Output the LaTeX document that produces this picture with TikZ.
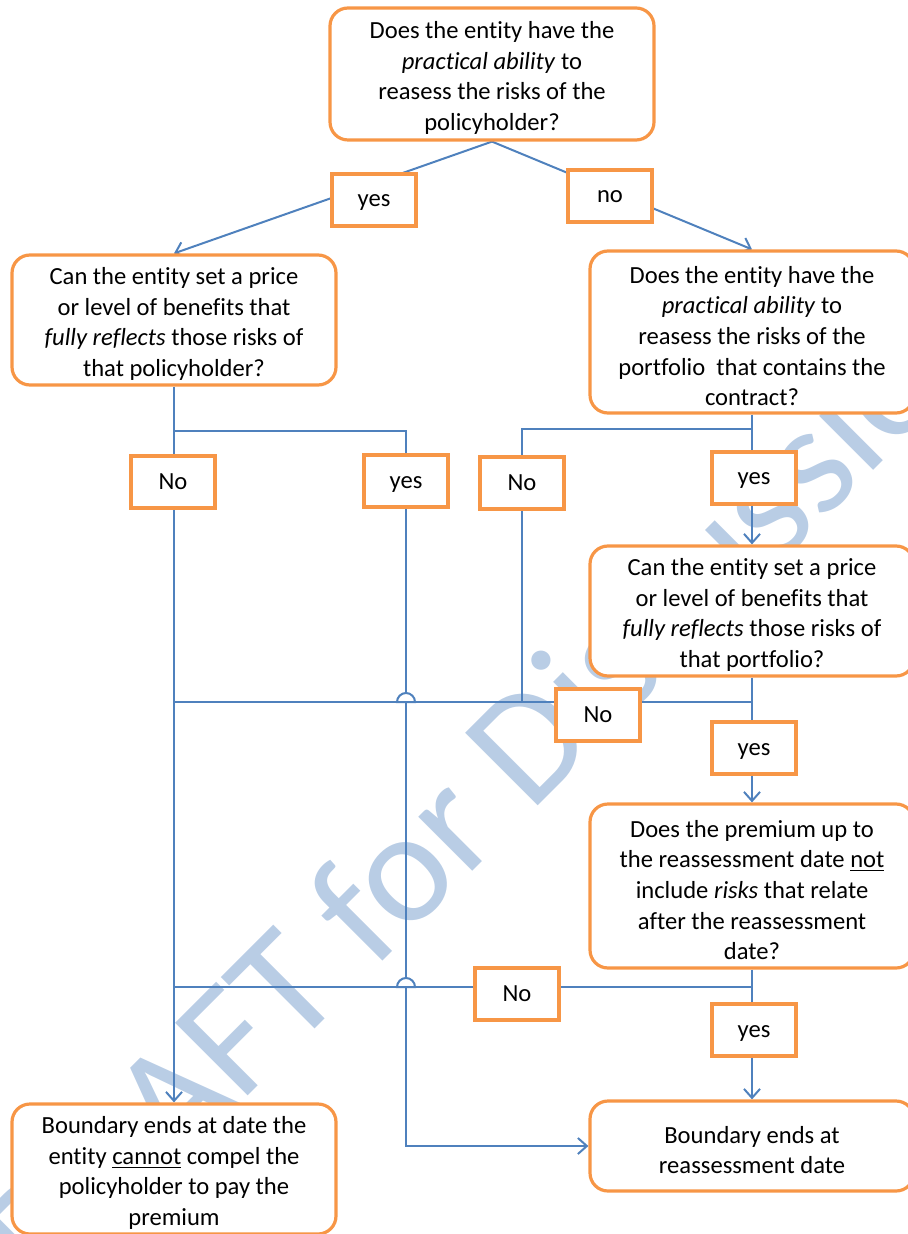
\documentclass[tikz,border=0pt]{standalone}
\usepackage{fontspec}
\setmainfont{Carlito}[Ligatures=CommonOff]
\usepackage{xcolor}
\usetikzlibrary{arrows.meta,backgrounds}
\definecolor{boxorange}{HTML}{F79646}
\definecolor{lineblue}{HTML}{4F81BD}
\definecolor{wmblue}{HTML}{B9CDE5}
\newcommand{\topgap}{\rule{0pt}{12.5pt}}

\begin{document}
\begin{tikzpicture}[x=0.5pt,y=-0.5pt,
	question/.style={draw=boxorange,line width=1.6pt,rounded corners=9pt,fill=white,align=center,inner sep=0pt,minimum width=162pt,font=\fontsize{12.3}{15.3}\selectfont},
	answer/.style={draw=boxorange,line width=2pt,fill=white,minimum width=42pt,minimum height=26pt,inner sep=0pt,text height=9pt,text depth=2pt,font=\fontsize{12.3}{15.3}\selectfont},
	wire/.style={draw=lineblue,line width=1pt},
	flow/.style={wire,-{Straight Barb[length=4.5pt,width=8pt]}}]

	\useasboundingbox (0,0) rectangle (907,1234);

	\begin{scope}[on background layer]
		\node[font=\fontsize{80}{96}\selectfont,text=wmblue,rotate=45,anchor=base west,inner sep=0pt] (wm) at (44,1300) {DRAFT for Discussion};
	\end{scope}

	\node[question,minimum height=66pt] (q1) at (492,74) {\topgap Does the entity have the\\\textit{practical ability} to\\reasess the risks of the\\policyholder?};
	\node[question,minimum height=65pt] (q2) at (174,320) {\topgap Can the entity set a price\\or level of benefits that\\\textit{fully reflects} those risks of\\that policyholder?};
	\node[question,minimum height=81pt] (q3) at (752,332) {\topgap Does the entity have the\\\textit{practical ability} to\\reasess the risks of the\\portfolio\ \ that contains the\\contract?};
	\node[question,minimum height=65pt] (q4) at (752,611) {\topgap Can the entity set a price\\or level of benefits that\\\textit{fully reflects} those risks of\\that portfolio?};
	\node[question,minimum height=82pt] (q5) at (752,886) {\topgap Does the premium up to\\the reassessment date \underline{not}\\include \textit{risks} that relate\\after the reassessment\\date?};
	\node[question,minimum height=45pt] (q6) at (752,1146) {\topgap Boundary ends at\\reassessment date};
	\node[question,minimum height=65pt] (q7) at (174,1169) {\topgap Boundary ends at date the\\entity \underline{cannot} compel the\\policyholder to pay the\\premium};

	\node[answer] (yesT) at (374,200) {yes};
	\node[answer] (noT) at (610,196) {no};
	\node[answer] (noA) at (173,482) {No};
	\node[answer] (yesA) at (406,481) {yes};
	\node[answer] (noB) at (522,483) {No};
	\node[answer] (yesB) at (754,478) {yes};
	\node[answer] (noC) at (598,715) {No};
	\node[answer] (yesC) at (754,748) {yes};
	\node[answer] (noD) at (517,994) {No};
	\node[answer] (yesD) at (754,1030) {yes};

	\coordinate (j1) at (174,431);
	\coordinate (j2) at (752,429);
	\coordinate (j3) at (752,702);
	\coordinate (k3) at (174,702);
	\coordinate (j4) at (752,987);
	\coordinate (k4) at (174,987);

	\begin{scope}[on background layer]
		\draw[flow] (q1.south) -- (q2.north);
		\draw[flow] (q1.south) -- (q3.north);
		\draw[flow] (q2.south) -- (q7.north);
		\draw[wire] (j1) -| (yesA.north);
		\draw[flow] (yesA.south) |- (q6.west);
		\draw[flow] (q3.south) -- (q4.north);
		\draw[wire] (j2) -| (noB.north);
		\draw[wire] (noB.south) -- (noB.south |- j3);
		\draw[flow] (q4.south) -- (q5.north);
		\draw[flow] (q5.south) -- (q6.north);
		\draw[wire] (j3) -- (k3);
		\draw[wire] (j4) -- (k4);
		\draw[wire,fill=white] (yesA.south |- j3) ++(9,0) arc[start angle=0,end angle=-180,radius=9] -- cycle;
		\draw[wire,fill=white] (yesA.south |- j4) ++(9,0) arc[start angle=0,end angle=-180,radius=9] -- cycle;
	\end{scope}

\end{tikzpicture}
\end{document}
